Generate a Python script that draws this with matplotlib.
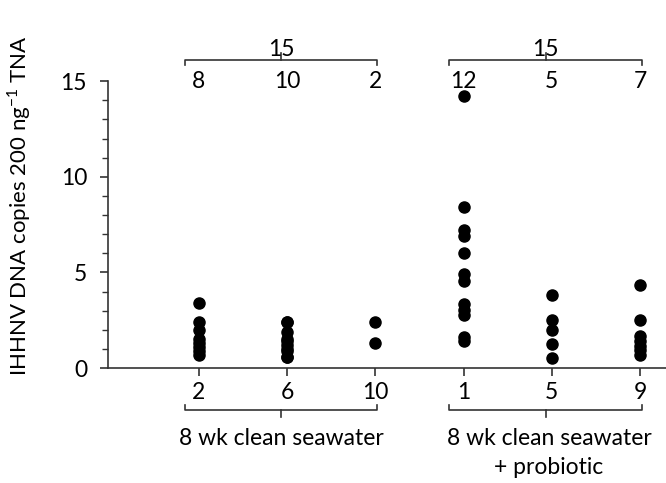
import numpy as np
import matplotlib.pyplot as plt
import matplotlib.transforms as mtransforms
from matplotlib.ticker import MultipleLocator

plt.rcParams['font.family'] = ['Lato', 'DejaVu Sans']

# weeks sampled, per group
weeks = ['2', '6', '10', '1', '5', '9']
counts = ['8', '10', '2', '12', '5', '7']
group_names = ['8 wk clean seawater', '8 wk clean seawater\n+ probiotic']
group_totals = ['15', '15']

# IHHNV copies per sample
wk2 = [3.4, 2.4, 2.0, 1.5, 1.3, 1.1, 0.9, 0.7]
wk6 = [2.4, 2.4, 1.9, 1.5, 1.4, 1.2, 1.0, 0.9, 0.6, 0.6]
wk10 = [2.4, 1.3]
wk1p = [14.2, 8.4, 7.2, 6.9, 6.0, 4.9, 4.55, 3.35, 3.05, 2.75, 1.6, 1.4]
wk5p = [3.8, 2.5, 2.0, 1.25, 0.55]
wk9p = [4.35, 2.5, 1.7, 1.4, 1.15, 0.95, 0.7]
values = [wk2, wk6, wk10, wk1p, wk5p, wk9p]

fs = 16.5
fig = plt.figure(figsize=(6.66, 4.83), dpi=100)
ax = fig.add_axes([0.162, 0.238, 0.838, 0.594])

for i, v in enumerate(values):
    ax.plot([i + 1] * len(v), v, 'o', color='black', ms=8, clip_on=False)

ax.set_xlim(-0.032, 6.295)
ax.set_ylim(0, 15)
ax.set_yticks([0, 5, 10, 15])
ax.yaxis.set_minor_locator(MultipleLocator(1))
ax.set_xticks(range(1, 7))
ax.set_xticklabels(weeks)
ax.tick_params(labelsize=fs, length=6, width=1.2, color='#333333')
ax.tick_params(axis='y', which='minor', length=4, width=1.0, color='#333333')
ax.tick_params(axis='y', pad=9)
ax.tick_params(axis='x', pad=4)
for s in ['top', 'right']:
    ax.spines[s].set_visible(False)
for s in ['left', 'bottom']:
    ax.spines[s].set_linewidth(1.2)
    ax.spines[s].set_color('#333333')

ax.set_ylabel('IHHNV DNA copies 200 ng$^{\\mathregular{-1}}$ TNA', fontsize=16, labelpad=14)
ax.yaxis.set_label_coords(-0.135, 0.565)

trans = mtransforms.blended_transform_factory(ax.transData, ax.transAxes)

# counts above each column
for i, c in enumerate(counts):
    ax.text(i + 1, 1.0, c, transform=trans, ha='center', va='center', fontsize=fs)

def bracket(x0, x1, y, d, up):
    s = 1 if up else -1
    xs = [x0, x0, x1, x1]
    ys = [y - s * d, y, y, y - s * d]
    ax.plot(xs, ys, color='#333333', lw=1.2, transform=trans, clip_on=False)
    xm = (x0 + x1) / 2
    ax.plot([xm, xm], [y, y + s * d * 1.3], color='#333333', lw=1.2,
            transform=trans, clip_on=False)

for g in range(2):
    x0 = g * 3 + 1 - 0.16
    x1 = g * 3 + 3 + 0.02
    bracket(x0, x1, 1.073, 0.018, True)
    ax.text((x0 + x1) / 2, 1.11, group_totals[g], transform=trans,
            ha='center', va='center', fontsize=fs)
    bracket(x0, x1, -0.146, 0.018, False)
    ax.text((x0 + x1) / 2 + (0.04 if g else 0), -0.21, group_names[g], transform=trans,
            ha='center', va='top', fontsize=fs, linespacing=1.45)

fig.savefig('out.png', dpi=100)
